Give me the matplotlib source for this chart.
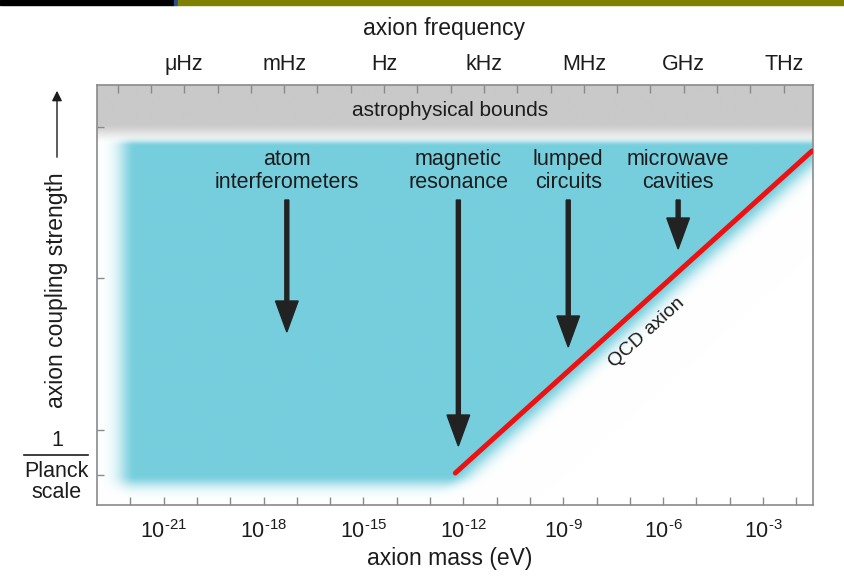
import numpy as np
import matplotlib
matplotlib.use("Agg")
import matplotlib.pyplot as plt
from matplotlib.lines import Line2D
from matplotlib.patches import Rectangle

plt.rcParams['font.family'] = ['Liberation Sans', 'DejaVu Sans']
plt.rcParams['mathtext.fontset'] = 'custom'
plt.rcParams['mathtext.rm'] = 'Liberation Sans'
plt.rcParams['mathtext.it'] = 'Liberation Sans:italic'

# x in log10(mass / eV), y in arbitrary coupling units
mass_ticks = [-21, -18, -15, -12, -9, -6, -3]
freq_ticks = [-6, -3, 0, 3, 6, 9, 12]          # log10(f / Hz)
freq_labels = ['μHz', 'mHz', 'Hz', 'kHz', 'MHz', 'GHz', 'THz']
ev_to_loghz = 14.38                             # log10(2.418e14 Hz per eV)
coupling_ticks = [30, 75, 227, 378]
planck_level = 30

x_range = (-23, -1.5)
y_range = (0, 420)

# sensitive region and bounds
blue_left = -21.85
blue_bottom = 30
blue_top = 359
astro_bound = 383
qcd_x = [-12.24, -1.53]
qcd_y = [32, 354]

experiments = ['atom\ninterferometers', 'magnetic\nresonance', 'lumped\ncircuits', 'microwave\ncavities']
exp_x = [-17.3, -12.15, -8.85, -5.55]
arrow_top = [305, 305, 305, 305]
arrow_tip = [173, 59, 158, 256]

blue = np.array([118, 206, 221]) / 255
gray = np.array([201, 201, 201]) / 255
ink = '#1c1c1c'

fig = plt.figure(figsize=(8.44, 5.78), dpi=100)
W, H = 844, 578
ax = fig.add_axes([97 / W, 1 - 505 / H, 716 / W, 420 / H])
ax.set_xlim(*x_range)
ax.set_ylim(*y_range)

# top strip
fig.patches.append(Rectangle((0, 1 - 5 / H), 174 / W, 5 / H, transform=fig.transFigure, color='black'))
fig.patches.append(Rectangle((174 / W, 1 - 5 / H), 4 / W, 5 / H, transform=fig.transFigure, color='#2a4f8a'))
fig.patches.append(Rectangle((178 / W, 1 - 5 / H), 666 / W, 5 / H, transform=fig.transFigure, color='#808000'))

# soft-edged background image
px_per_dec = 716 / (x_range[1] - x_range[0])
xs = np.linspace(*x_range, 900)
ys = np.linspace(*y_range, 500)
X, Y = np.meshgrid(xs, ys)


def fade(d, w):
    d = np.clip(d, 0, None)
    return np.exp(-(d / w) ** 2)


ddx = (qcd_x[1] - qcd_x[0]) * px_per_dec
ddy = qcd_y[1] - qcd_y[0]
L = np.hypot(ddx, ddy)
d_diag = ((X - qcd_x[0]) * px_per_dec * ddy - (Y - qcd_y[0]) * ddx) / L
ab = (fade((blue_left - X) * px_per_dec, 17) * fade(blue_bottom - Y, 12)
      * fade(d_diag, 13) * fade(Y - blue_top, 6))
t = np.clip((Y - (astro_bound - 22)) / 22, 0, 1)
ag = t * t * (3 - 2 * t)
img = (1 - ab)[..., None] * 1.0 + ab[..., None] * blue
img = img * (1 - ag)[..., None] + ag[..., None] * gray
ax.imshow(img, extent=(*x_range, *y_range), origin='lower', aspect='auto',
          interpolation='bilinear', zorder=0)

# QCD axion line
ax.plot(qcd_x, qcd_y, color='#ee1111', lw=3.6, solid_capstyle='round', zorder=3)
p0 = ax.transData.transform((qcd_x[0], qcd_y[0]))
p1 = ax.transData.transform((qcd_x[1], qcd_y[1]))
ang = np.degrees(np.arctan2(p1[1] - p0[1], p1[0] - p0[0]))
ax.text(-6.5, 172, 'QCD axion', rotation=ang, rotation_mode='anchor',
        ha='center', va='center', fontsize=14, color=ink)

ax.text(-12.39, 395, 'astrophysical bounds', ha='center', va='center', fontsize=15, color=ink)

for name, x, y0, y1 in zip(experiments, exp_x, arrow_top, arrow_tip):
    ax.text(x, 356, name, ha='center', va='top', fontsize=15.5, color=ink,
            linespacing=1.1)
    ax.arrow(x, y0, 0, y1 - y0, width=0.12, head_width=0.68, head_length=31,
             length_includes_head=True, color='#222222', zorder=4)

# frame and ticks
for s in ax.spines.values():
    s.set_color('#8a8a8a')
    s.set_linewidth(1.2)
ax.set_xticks(mass_ticks)
ax.set_xticklabels([r'$10^{\text{-%d}}$' % -m for m in mass_ticks])
ax.set_xticks(np.arange(-22, -1), minor=True)
ax.set_yticks(coupling_ticks)
ax.set_yticklabels([])
ax.tick_params(axis='both', which='both', direction='in', color='#8a8a8a', width=1.0)
ax.tick_params(axis='x', which='both', length=6, labelsize=15.5, labelcolor=ink, pad=11)
ax.tick_params(axis='y', length=5)

top = ax.secondary_xaxis('top', functions=(lambda x: x + ev_to_loghz, lambda f: f - ev_to_loghz))
top.set_xticks(freq_ticks)
top.set_xticklabels(freq_labels)
top.set_xticks(np.arange(-8, 13), minor=True)
top.tick_params(which='both', direction='in', length=6, color='#8a8a8a', width=1.0,
                labelsize=15.5, labelcolor=ink, pad=7)
top.spines['top'].set_visible(False)

fig.text(444 / W, 1 - 28 / H, 'axion frequency', ha='center', va='center', fontsize=16.5, color=ink)
fig.text(450 / W, 1 - 559 / H, 'axion mass (eV)', ha='center', va='center', fontsize=16.5, color=ink)
fig.text(57 / W, 1 - 290 / H, 'axion coupling strength', ha='center', va='center',
         rotation=90, fontsize=16.5, color=ink)
fig.patches.append(matplotlib.patches.FancyArrowPatch(
    (57 / W, 1 - 160 / H), (57 / W, 1 - 88 / H), transform=fig.transFigure,
    arrowstyle='-|>', mutation_scale=15, color=ink, lw=1.0))

# Planck-scale label
blend = matplotlib.transforms.blended_transform_factory(ax.transAxes, ax.transData)
ax.text(-0.056, planck_level + 34, '1', transform=blend, ha='center', va='center', fontsize=15.5, color=ink)
ax.add_line(Line2D([-0.102, -0.012], [planck_level + 20] * 2, transform=blend, color=ink,
                   lw=1.2, clip_on=False))
ax.text(-0.056, planck_level - 7, 'Planck\nscale', transform=blend, ha='center', va='center',
        fontsize=15.5, color=ink, linespacing=0.98)

fig.savefig('out.png', dpi=100)
